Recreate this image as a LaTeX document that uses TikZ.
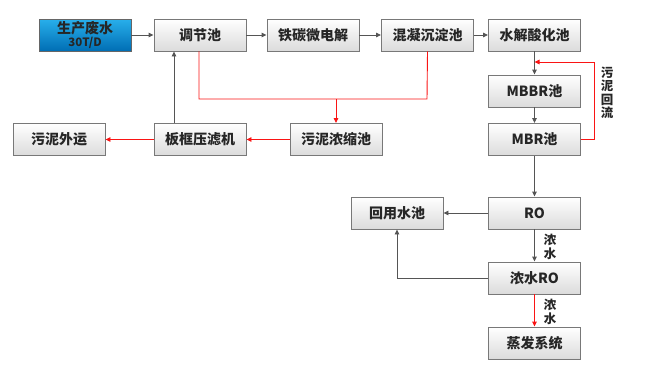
\documentclass[tikz,border=0pt]{standalone}
\usepackage{fontspec}
\newfontfamily\cjk{Noto Sans CJK SC}
\usetikzlibrary{arrows.meta}
\definecolor{linegray}{RGB}{85,85,85}
\definecolor{boxborder}{RGB}{120,120,120}
\definecolor{redline}{RGB}{250,20,20}
\definecolor{bluetop}{RGB}{40,175,235}
\definecolor{bluebot}{RGB}{0,110,180}
\tikzset{
  proc/.style={draw=boxborder, line width=0.9pt, top color=white, bottom color=black!14,
    minimum width=92pt, minimum height=32pt, inner sep=0pt,
    font=\cjk\bfseries\fontsize{14}{15}\selectfont, text=black!85},
  srcbox/.style={proc, top color=bluetop, bottom color=bluebot, draw=black!60},
  garrow/.style={draw=linegray, line width=0.9pt, -{Triangle[length=5pt,width=4.5pt]}},
  rarrow/.style={draw=redline, line width=0.9pt, -{Triangle[length=5pt,width=4.5pt]}},
  gline/.style={draw=linegray, line width=0.9pt},
  rline/.style={draw=redline, line width=0.9pt},
  vlabel/.style={font=\cjk\bfseries\fontsize{12.5}{13.5}\selectfont, align=center, text=black!85, inner sep=0pt}
}
\begin{document}
\begin{tikzpicture}[x=1pt,y=-1pt]
\useasboundingbox (0,0) rectangle (650,368);
\node[srcbox, align=center] (src) at (85,35) {生产废水\\[-2.5pt]{\fontsize{11.5}{12}\selectfont 30T/D}};
\node[proc] (tj) at (200,35) {调节池};
\node[proc] (tt) at (313,35) {铁碳微电解};
\node[proc] (hn) at (427.5,35) {混凝沉淀池};
\node[proc] (sj) at (534.5,35) {水解酸化池};
\node[proc] (mbbr) at (534.5,91) {MBBR池};
\node[proc] (mbr) at (534.5,139.5) {MBR池};
\node[proc] (wy) at (59,139.5) {污泥外运};
\node[proc] (bk) at (200,139.5) {板框压滤机};
\node[proc] (nc) at (336,139.5) {污泥浓缩池};
\node[proc] (ro) at (534.5,213) {RO};
\node[proc] (hy) at (397,213) {回用水池};
\node[proc] (nro) at (534.5,278) {浓水RO};
\node[proc] (zf) at (534.5,343) {蒸发系统};

% main flow
\draw[garrow] (src) -- (tj);
\draw[garrow] (tj) -- (tt);
\draw[garrow] (tt) -- (hn);
\draw[garrow] (hn) -- (sj);
\draw[garrow] (sj) -- (mbbr);
\draw[garrow] (mbbr) -- (mbr);
\draw[garrow] (mbr) -- (ro);
\draw[garrow] (ro) -- (hy);
\draw[garrow] (ro) -- (nro);
\draw[rarrow] (nro) -- (zf);
\draw[garrow] (nro.west) -| (hy.south);
\draw[garrow] (bk.north -| 174,0) -- (tj.south -| 174,0);

% sludge lines
\coordinate (rl) at (199,99);
\coordinate (rr) at (427,99);
\coordinate (rm) at (336,99);
\draw[rline] (tj.south -| rl) -- (rl) -- (rr) -- (hn.south);
\draw[rarrow] (rm) -- (nc.north);
\draw[rarrow] (nc) -- (bk);
\draw[rarrow] (bk) -- (wy);

% sludge return
\coordinate (rt) at (594,62);
\coordinate (rtj) at (534.5,62);
\draw[rarrow] (mbr.east) -| (rt) -- (rtj);

% labels
\node[vlabel] (lb1) at (607,93) {污\\泥\\回\\流};
\node[vlabel] (lb2) at (550,247) {浓\\水};
\node[vlabel] (lb3) at (550,312) {浓\\水};
\end{tikzpicture}
\end{document}
